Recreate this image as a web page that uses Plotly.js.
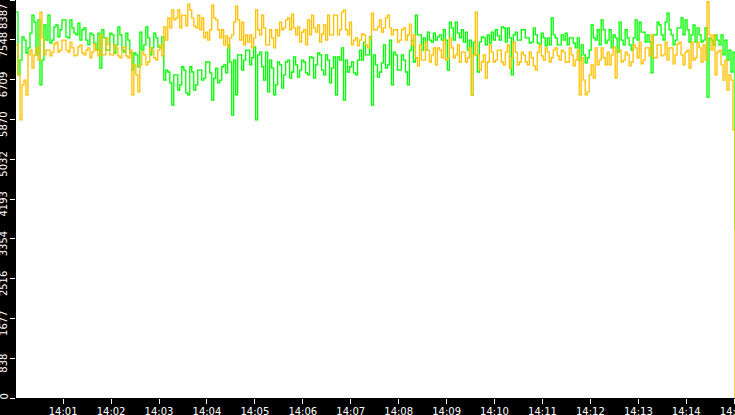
<!DOCTYPE html>
<html>
<head>
<meta charset="utf-8">
<script src="https://cdn.plot.ly/plotly-3.0.1.min.js"></script>
<style>
  html, body { margin: 0; padding: 0; background: #000; }
  #chart { width: 735px; height: 415px; }
</style>
</head>
<body>
<div id="chart"></div>
<script>
// samples every 2.5 s starting 14:00:01
const startTime = '2024-01-01T14:00:01';
const stepMs = 2500;

const greenValues = [
  8130, 6810, 7120, 7610, 7540, 7270, 7380, 7690, 8070, 7920,
  7230, 7970, 6600, 7120, 7860, 7540, 8070, 7480, 7540, 7820,
  7860, 7610, 7760, 7970, 7970, 7610, 7590, 7970, 7800, 7690,
  7650, 7900, 7540, 7760, 7800, 7540, 7440, 7690, 7650, 7480,
  7330, 7690, 6950, 7760, 7590, 7330, 7330, 7690, 7650, 7270,
  7440, 7820, 7650, 7330, 7290, 7690, 7540, 7270, 6910, 7270,
  7230, 6980, 7710, 7330, 7440, 7820, 7590, 7230, 7380, 7690,
  7590, 7400, 7380, 7610, 6700, 6910, 6870, 6640, 6170, 6810,
  6810, 6490, 6600, 6980, 6910, 6430, 6390, 6980, 6870, 6490,
  6600, 6910, 6910, 6700, 6740, 7080, 7080, 6850, 6280, 6740,
  6950, 6640, 6700, 6980, 7020, 6850, 7440, 7080, 5960, 7120,
  6390, 7230, 7230, 6910, 7120, 7330, 7330, 7020, 7170, 7400,
  5860, 7230, 7290, 6980, 6700, 7290, 6450, 7120, 6950, 6390,
  6600, 7080, 7020, 6530, 6810, 7080, 7120, 6740, 6870, 7190,
  7020, 6760, 6910, 7120, 7080, 6850, 6810, 7190, 7170, 6740,
  7020, 7270, 7230, 6910, 6810, 7230, 7120, 6640, 6950, 7190,
  6390, 7190, 7120, 7380, 6280, 7120, 6870, 6980, 7080, 6850,
  6810, 7120, 7330, 7120, 7500, 7230, 7230, 7610, 6170, 7230,
  7020, 6760, 6870, 7060, 7440, 6950, 7020, 7540, 6600, 7290,
  7230, 6910, 6910, 7230, 7120, 6870, 6600, 7330, 7540, 7080,
  8070, 7650, 7650, 7330, 7590, 7330, 7710, 7540, 7500, 7690,
  7540, 7610, 7650, 7540, 7760, 7540, 6910, 7920, 7800, 7540,
  7920, 7690, 7590, 7760, 7500, 7710, 7330, 7540, 6390, 7500,
  7230, 6870, 7500, 7610, 7590, 7440, 7650, 7480, 7710, 7540,
  7760, 7630, 7540, 7820, 7800, 7500, 7800, 7590, 6810, 7650,
  7710, 7540, 7540, 7760, 7760, 7590, 7590, 7480, 7500, 7800,
  7650, 7480, 7440, 7690, 7590, 7420, 7590, 7440, 8010, 7650,
  7590, 7440, 7440, 7650, 7540, 7690, 7440, 7590, 7590, 7480,
  7380, 7590, 7120, 7440, 7230, 7060, 7170, 7330, 7860, 7590,
  7540, 7760, 7440, 7970, 7760, 7480, 7540, 7760, 7380, 7650,
  7590, 7290, 7920, 7540, 7440, 7760, 7590, 7440, 7330, 7590,
  7970, 7540, 7920, 7710, 7710, 7500, 7650, 7500, 6850, 7650,
  7650, 7920, 7860, 7650, 7540, 7920, 8110, 7760, 7650, 7440,
  7540, 7800, 7800, 8010, 7650, 7970, 7760, 7500, 7650, 7860,
  7500, 7800, 7650, 7500, 7540, 7800, 6340, 7590, 7540, 7440,
  7650, 7540, 7440, 7650, 7230, 7540, 7120, 7330, 6870, 7290,
  3540
];

const orangeValues = [
  7440, 6810, 5860, 6600, 6700, 6390, 7230, 7330, 6950, 7230,
  7380, 7120, 8130, 7590, 7230, 7330, 7330, 7210, 7290, 7460,
  7500, 7290, 7330, 7540, 7540, 7330, 7290, 7500, 7380, 7210,
  7230, 7400, 7440, 7270, 7230, 7330, 7380, 7170, 7290, 7460,
  7330, 7210, 7650, 7230, 7230, 7590, 7440, 7230, 7230, 7440,
  7380, 7210, 7170, 7380, 7400, 7210, 7170, 7330, 6390, 7020,
  6810, 6450, 7020, 7290, 7230, 7020, 7080, 7380, 7330, 7170,
  7120, 7330, 7440, 7210, 7820, 7540, 8010, 7800, 8180, 7970,
  8010, 8180, 7800, 8070, 8070, 7840, 8300, 8180, 8010, 7840,
  7800, 8070, 7760, 8010, 7590, 7710, 7540, 7760, 8280, 8010,
  7970, 7760, 7590, 7760, 7440, 7630, 7380, 7590, 7650, 7920,
  8260, 7970, 7540, 7920, 7440, 7650, 7500, 7650, 7380, 7590,
  8180, 7760, 7650, 8070, 7800, 7440, 7440, 7760, 7590, 7380,
  7760, 7630, 7920, 7760, 7800, 7970, 8010, 7760, 8090, 7800,
  7650, 7820, 7500, 7710, 7760, 7440, 7970, 7650, 8070, 7800,
  7710, 7860, 7500, 7670, 7860, 7540, 8070, 7650, 7650, 8070,
  8070, 7650, 7760, 8130, 8180, 7760, 7650, 7920, 7440, 7540,
  7590, 7420, 7540, 7670, 7650, 7440, 7380, 7590, 8110, 7760,
  7760, 7820, 7970, 7710, 7800, 8010, 8070, 7800, 7650, 7760,
  7760, 7500, 7540, 7760, 7800, 7540, 7650, 7880, 7440, 7650,
  7170, 7000, 7440, 7120, 7120, 7500, 7330, 7080, 7230, 7380,
  7020, 7380, 7330, 7170, 7540, 7120, 7170, 7590, 7380, 7170,
  7230, 7440, 7080, 7290, 7290, 7080, 7170, 7380, 6390, 7230,
  8130, 7230, 6910, 7080, 7230, 6740, 7080, 7440, 7290, 7080,
  7120, 7330, 7330, 7080, 7020, 7290, 7440, 6950, 7170, 7500,
  7290, 7020, 7080, 7290, 7230, 7080, 7020, 7290, 7170, 7000,
  6910, 7290, 7440, 7210, 7120, 7380, 7290, 7080, 7170, 7330,
  7380, 7210, 7120, 7330, 7290, 7080, 7080, 7380, 7230, 7000,
  7120, 7330, 6390, 7170, 6700, 6390, 6450, 6810, 7020, 6740,
  7380, 7020, 7120, 7380, 7170, 7020, 7290, 7020, 7230, 7400,
  6740, 7330, 7330, 7080, 7120, 7290, 7230, 7000, 7080, 7440,
  7380, 7170, 7500, 7040, 7120, 7380, 7380, 7210, 7650, 7170,
  7170, 7440, 7440, 7210, 7230, 7500, 7120, 7380, 7380, 7040,
  7230, 7460, 7500, 7230, 7020, 7290, 7330, 6950, 7500, 7120,
  7170, 7500, 7380, 7080, 7440, 7120, 8350, 7650, 7330, 7650,
  6810, 7290, 7330, 7020, 6700, 7120, 6490, 6810, 6700, 5650,
  0
];

const yTickVals = [0, 838, 1677, 2516, 3354, 4193, 5032, 5870, 6709, 7548, 8387];

function makeTimes(count) {
  const t0 = new Date(startTime + 'Z').getTime();
  const out = [];
  for (let i = 0; i < count; i++) {
    out.push(new Date(t0 + i * stepMs).toISOString().replace('Z', ''));
  }
  return out;
}

const times = makeTimes(greenValues.length);
const tickFont = { family: 'DejaVu Sans', size: 10, color: '#ffffff' };

// y labels sit a little below their ticks; the end labels are kept inside the frame
const yLabels = yTickVals.map((v, i) => {
  const last = i === yTickVals.length - 1;
  return {
    text: String(v),
    xref: 'paper', yref: last ? 'paper' : 'y',
    x: 0, y: last ? 1 : v,
    xanchor: 'right', yanchor: last ? 'top' : 'middle',
    xshift: -5,
    yshift: last ? -2 : (v === 0 ? 1 : -5),
    textangle: -90,
    showarrow: false,
    font: tickFont
  };
});

const data = [
  {
    type: 'scatter',
    mode: 'lines',
    x: times,
    y: greenValues,
    line: { color: '#00ff00', width: 1.3, shape: 'hv' },
    hoverinfo: 'skip'
  },
  {
    type: 'scatter',
    mode: 'lines',
    x: times,
    y: orangeValues,
    line: { color: '#ffc000', width: 1.3, shape: 'hv' },
    hoverinfo: 'skip'
  }
];

const layout = {
  width: 735,
  height: 415,
  showlegend: false,
  paper_bgcolor: '#000000',
  plot_bgcolor: '#ffffff',
  margin: { l: 16, r: 0, t: 0, b: 17, pad: 0 },
  xaxis: {
    type: 'date',
    range: [times[0], times[times.length - 1]],
    tickformat: '%H:%M',
    dtick: 60000,
    ticks: 'outside',
    ticklen: 5,
    tickwidth: 1,
    tickcolor: '#ffffff',
    tickfont: tickFont,
    ticklabeloverflow: 'allow',
    ticklabelstandoff: -1,
    showgrid: false,
    zeroline: false,
    showline: false
  },
  yaxis: {
    range: [0, yTickVals[yTickVals.length - 1]],
    tickvals: yTickVals,
    showticklabels: false,
    ticks: 'outside',
    ticklen: 5,
    tickwidth: 1,
    tickcolor: '#ffffff',
    showgrid: false,
    zeroline: false,
    showline: false,
    automargin: false
  },
  annotations: yLabels
};

Plotly.newPlot('chart', data, layout, { staticPlot: true });
</script>
</body>
</html>
